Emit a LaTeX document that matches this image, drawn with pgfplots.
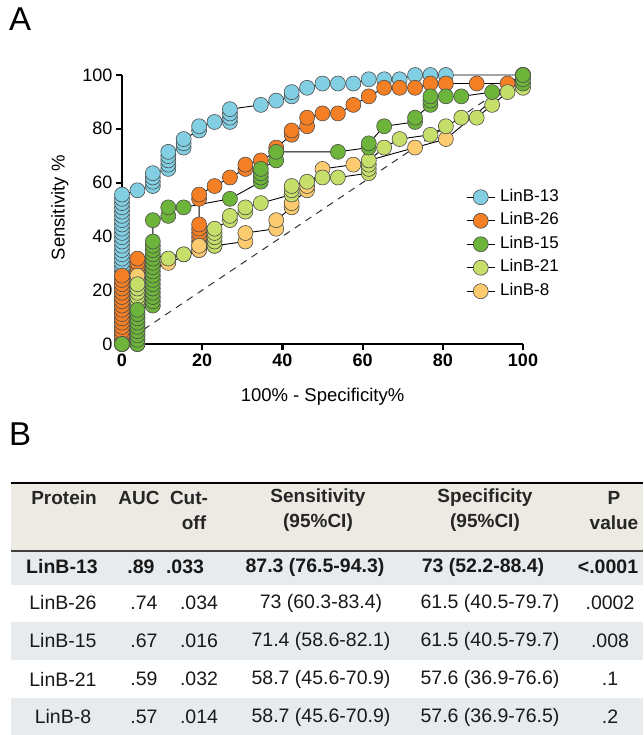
\documentclass[border=0pt]{standalone}
\usepackage{pgfplots}
\pgfplotsset{compat=1.18}
\usepackage{fontspec}
\setmainfont{Liberation Sans}
\definecolor{cBlue}{HTML}{82CFE3}
\definecolor{cOrange}{HTML}{F47F24}
\definecolor{cGreen}{HTML}{6DB43A}
\definecolor{cLGreen}{HTML}{C6DE6A}
\definecolor{cLOrange}{HTML}{FCCB6F}
\definecolor{hdrbg}{HTML}{ECEAE3}
\definecolor{rowbg}{HTML}{E7EBEE}
\newcommand\fs[1]{\fontsize{#1}{#1}\selectfont}
\pgfplotsset{roc/.style={line width=0.9pt, black, mark=*, mark size=7.5pt,
  mark options={fill=#1, draw=black!70, line width=0.6pt, solid}}}
\begin{document}
\begin{tikzpicture}[x=1pt,y=1pt]
\useasboundingbox (0,0) rectangle (643,-735);
\node[anchor=north west, inner sep=0pt, font=\fs{33}] at (9,-8) {A};
\node[anchor=north west, inner sep=0pt, font=\fs{33}] at (9,-423) {B};
\begin{axis}[
  at={(122pt,-344pt)}, anchor=south west,
  scale only axis, width=401pt, height=269pt,
  xmin=0, xmax=100, ymin=0, ymax=100,
  axis lines*=left,
  axis line style={line width=2.2pt},
  xtick={0,20,...,100}, ytick={0,20,...,100},
  tick style={line width=2.2pt, black},
  tick align=outside, major tick length=6pt,
  /pgf/number format/assume math mode=true,
  xticklabel style={font=\bfseries\fs{18}},
  yticklabel style={font=\fs{18}},
  xlabel={100\% - Specificity\%}, ylabel={Sensitivity \%},
  label style={font=\fs{18.5}},
  x label style={at={(axis description cs:0.5,-0.197)}, anchor=center},
  y label style={at={(axis description cs:-0.155,0.506)}, anchor=center},
  clip=false,
  legend style={draw=none, fill=none, font=\fs{17}, at={(axis cs:85.8,57.6)}, anchor=north west,
    row sep=7.5pt, column sep=5pt, cells={anchor=west}, inner sep=0pt,
    nodes={inner sep=0pt, text height=12pt, text depth=4pt}},
  legend image code/.code={\draw[mark repeat=2,mark phase=2,#1] plot coordinates {(0pt,0pt) (14pt,0pt) (28pt,0pt)};},
]
\addplot[forget plot, black!80, line width=1pt, dash pattern=on 7pt off 6pt] coordinates {(0,0) (100,100)};
% LinB-13
\addplot[roc=cBlue, forget plot] coordinates {
(0,0)(0,1.59)(0,3.17)(0,4.76)(0,6.35)(0,7.94)(0,9.52)(0,11.11)(0,12.70)(0,14.29)(0,15.87)(0,17.46)
(0,19.05)(0,20.63)(0,22.22)(0,23.81)(0,25.40)(0,26.98)(0,28.57)(0,30.16)(0,31.75)(0,33.33)(0,34.92)
(0,36.51)(0,38.10)(0,39.68)(0,41.27)(0,42.86)(0,44.44)(0,46.03)(0,47.62)(0,49.21)(0,50.79)(0,52.38)
(0,53.97)(0,55.56)
(3.85,57.14)(7.69,58.73)(7.69,60.32)(7.69,61.90)(7.69,63.49)
(11.54,65.08)(11.54,66.67)(11.54,68.25)(11.54,69.84)(11.54,71.43)
(15.38,73.02)(15.38,74.60)(15.38,76.19)(19.23,79.37)(19.23,80.95)(23.08,82.54)
(26.92,82.54)(26.92,84.13)(26.92,85.71)(26.92,87.30)(34.62,88.89)(38.46,90.48)
(42.31,92.06)(42.31,93.65)(46.15,95.24)(50,96.83)(53.85,96.83)(57.69,96.83)
(61.54,98.41)(65.38,98.41)(69.23,98.41)(73.08,100)(76.92,100)(80.77,100)(100,100)};
% LinB-26
\addplot[roc=cOrange, forget plot] coordinates {
(0,0)(0,1.59)(0,3.17)(0,4.76)(0,6.35)(0,7.94)(0,9.52)(0,11.11)(0,12.70)(0,14.29)(0,15.87)(0,17.46)
(0,19.05)(0,20.63)(0,22.22)(0,23.81)(0,25.40)
(3.85,26.98)(3.85,28.57)(3.85,30.16)(3.85,31.75)(15.38,33.33)
(19.23,34.92)(19.23,36.51)(19.23,38.10)(19.23,39.68)(19.23,41.27)(19.23,42.86)(19.23,44.44)
(19.23,53.97)(19.23,55.56)(23.08,58.73)(26.92,61.90)(30.77,65.08)(30.77,66.67)(34.62,68.25)
(38.46,71.43)(38.46,73.02)(42.31,77.78)(42.31,79.37)(46.15,80.95)(46.15,84.13)(50,85.71)
(53.85,85.71)(57.69,88.89)(61.54,92.06)(65.38,95.24)(69.23,95.24)(73.08,95.24)(76.92,96.83)
(80.77,96.83)(88.46,96.83)(96.15,96.83)(100,100)};
% LinB-8
\addplot[roc=cLOrange, forget plot] coordinates {
(0,0)(3.85,0)(3.85,1.59)(3.85,3.17)(3.85,4.76)(3.85,6.35)(3.85,7.94)(3.85,9.52)(3.85,11.11)
(3.85,12.70)(3.85,14.29)(3.85,15.87)(3.85,17.46)(3.85,19.05)(3.85,20.63)(3.85,22.22)(3.85,23.81)(3.85,25.40)
(11.54,30.16)(19.23,34.92)(19.23,36.51)(23.08,36.51)(30.77,38.10)(30.77,41.27)(38.46,42.86)
(38.46,46.03)(42.31,50.79)(42.31,52.38)(46.15,57.14)(46.15,58.73)(50,65.08)(57.69,66.67)
(73.08,73.02)(80.77,76.19)(100,100)};
% LinB-21
\addplot[roc=cLGreen, forget plot] coordinates {
(0,0)(3.85,0)(3.85,1.59)(3.85,3.17)(3.85,4.76)(3.85,6.35)(3.85,7.94)(3.85,9.52)(3.85,11.11)
(3.85,12.70)(3.85,14.29)(3.85,15.87)(3.85,17.46)(3.85,19.05)(3.85,20.63)(3.85,22.22)
(11.54,31.75)(15.38,33.33)(23.08,36.51)(23.08,38.10)(23.08,39.68)(23.08,41.27)(23.08,42.86)
(26.92,46.03)(26.92,47.62)(30.77,49.21)(30.77,50.79)(34.62,52.38)(42.31,55.56)(42.31,57.14)
(42.31,58.73)(46.15,60.32)(50,61.90)(53.85,61.90)(61.54,63.49)(61.54,65.08)(61.54,66.67)
(61.54,68.25)(65.38,73.02)(69.23,76.19)(76.92,77.78)(80.77,80.95)(84.62,84.13)(88.46,84.13)
(92.31,88.89)(96.15,93.65)(100,95.24)(100,100)};
% LinB-15
\addplot[roc=cGreen, forget plot] coordinates {
(0,0)(3.85,0)(3.85,1.59)(3.85,3.17)(3.85,4.76)(3.85,6.35)(3.85,7.94)(3.85,9.52)(3.85,11.11)(3.85,12.70)
(7.69,14.29)(7.69,15.87)(7.69,17.46)(7.69,19.05)(7.69,20.63)(7.69,22.22)(7.69,23.81)(7.69,25.40)
(7.69,26.98)(7.69,28.57)(7.69,30.16)(7.69,31.75)(7.69,33.33)(7.69,34.92)(7.69,36.51)(7.69,38.10)
(7.69,46.03)(11.54,47.62)(11.54,50.79)(15.38,50.79)(26.92,53.97)(34.62,60.32)(34.62,61.90)
(34.62,63.49)(34.62,65.08)(38.46,68.25)(38.46,71.43)(53.85,71.43)(61.54,73.02)(61.54,74.60)
(65.38,80.95)(73.08,82.54)(73.08,84.13)(76.92,88.89)(76.92,90.48)(76.92,92.06)(80.77,92.06)
(84.62,92.06)(92.31,93.65)(100,96.83)(100,98.41)(100,100)};
\addlegendimage{roc=cBlue}
\addlegendimage{roc=cOrange}
\addlegendimage{roc=cGreen}
\addlegendimage{roc=cLGreen}
\addlegendimage{roc=cLOrange}
\legend{LinB-13,LinB-26,LinB-15,LinB-21,LinB-8}
\end{axis}
% table
\fill[hdrbg] (11,-484) rectangle (643,-550);
\draw[line width=2.5pt] (11,-483) -- (643,-483);
\fill[rowbg] (11,-552) rectangle (643,-585);
\draw[line width=2.5pt, black!75] (11,-551) -- (643,-551);
\fill[rowbg] (11,-622) rectangle (643,-660);
\fill[rowbg] (11,-698) rectangle (643,-735);
\begin{scope}[every node/.style={font=\bfseries\fs{19}, text=black!85, inner sep=0pt}]
\node at (64,-498) {Protein};
\node at (139,-498) {AUC};
\node at (189,-498) {Cut-};
\node at (194,-523) {off};
\node at (318,-498) {Sensitivity};
\node at (318,-523) {(95\%CI)};
\node at (485,-498) {Specificity};
\node at (485,-523) {(95\%CI)};
\node at (614,-498) {P};
\node at (614,-523) {value};
\end{scope}
\begin{scope}[every node/.style={font=\bfseries\fs{19.5}, text=black!90, inner sep=0pt}]
\node at (62,-567) {LinB-13};
\node at (141,-567) {.89};
\node at (185,-567) {.033};
\node at (315,-567) {87.3 (76.5-94.3)};
\node at (483,-567) {73 (52.2-88.4)};
\node at (608,-567) {<.0001};
\end{scope}
\begin{scope}[every node/.style={font=\fs{19.5}, text=black!90, inner sep=0pt}]
\node at (63,-603) {LinB-26}; \node at (144,-603) {.74}; \node at (199,-603) {.034};
\node at (321,-603) {73 (60.3-83.4)}; \node at (490,-603) {61.5 (40.5-79.7)}; \node at (610,-603) {.0002};
\node at (63,-641) {LinB-15}; \node at (144,-641) {.67}; \node at (199,-641) {.016};
\node at (321,-641) {71.4 (58.6-82.1)}; \node at (490,-641) {61.5 (40.5-79.7)}; \node at (610,-641) {.008};
\node at (63,-679) {LinB-21}; \node at (144,-679) {.59}; \node at (199,-679) {.032};
\node at (321,-679) {58.7 (45.6-70.9)}; \node at (490,-679) {57.6 (36.9-76.6)}; \node at (610,-679) {.1};
\node at (63,-717) {LinB-8}; \node at (144,-717) {.57}; \node at (199,-717) {.014};
\node at (321,-717) {58.7 (45.6-70.9)}; \node at (490,-717) {57.6 (36.9-76.5)}; \node at (610,-717) {.2};
\end{scope}
\end{tikzpicture}
\end{document}
